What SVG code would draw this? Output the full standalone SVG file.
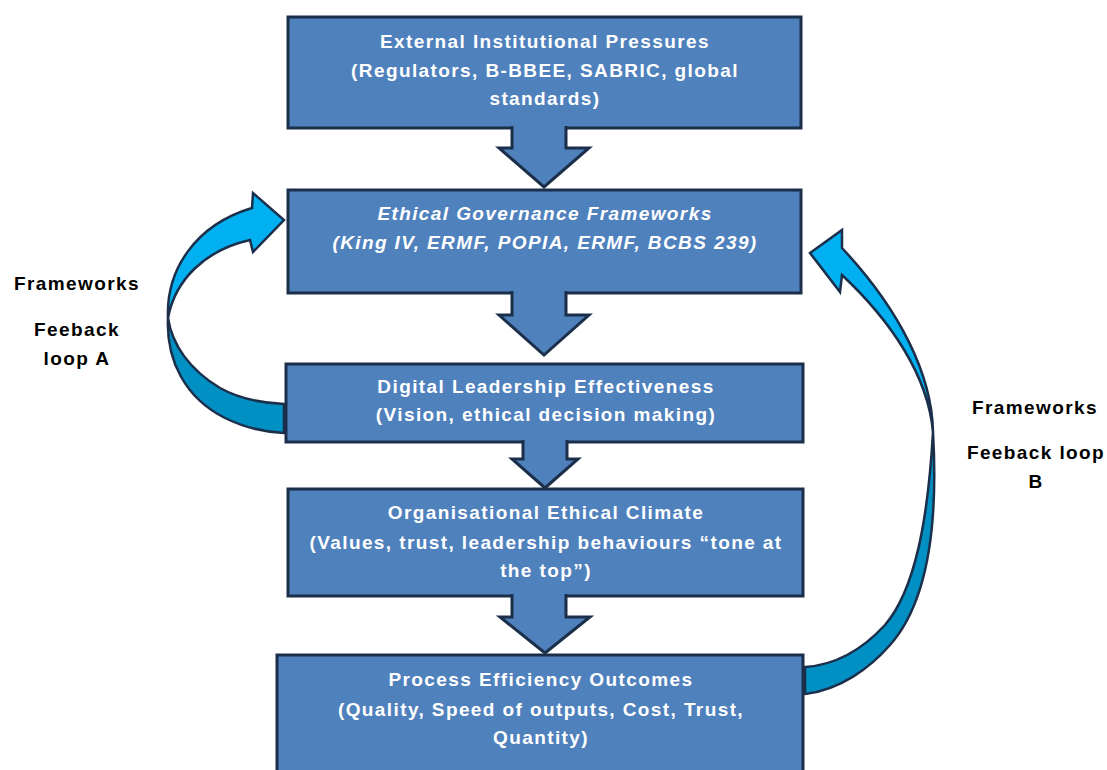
<svg xmlns="http://www.w3.org/2000/svg" width="1107" height="770" viewBox="0 0 1107 770">
  <style>
    .box { fill: #4F81BD; stroke: #1B2F4B; stroke-width: 3; }
    .down { fill: #4F81BD; stroke: #1B2F4B; stroke-width: 3; stroke-linejoin: miter; }
    .t { font-family: "Liberation Sans", Arial, sans-serif; font-size: 19px; font-weight: bold; letter-spacing: 1.4px; fill: #FFFFFF; text-anchor: middle; }
    .it { font-style: italic; }
    .lbl { font-family: "Liberation Sans", Arial, sans-serif; font-size: 19px; font-weight: bold; letter-spacing: 1.4px; fill: #000000; text-anchor: middle; }
    .front { fill: #00B0F0; stroke: #1B2F4B; stroke-width: 2.5; stroke-linejoin: miter; }
    .back { fill: #0090C4; stroke: #1B2F4B; stroke-width: 2.5; stroke-linejoin: round; }
  </style>
  <rect width="1107" height="770" fill="#FFFFFF"/>

  <g id="node-external">
    <rect class="box" x="288" y="17" width="513" height="111"/>
    <text class="t" x="545" y="48">External Institutional Pressures</text>
    <text class="t" x="545" y="77">(Regulators, B-BBEE, SABRIC, global</text>
    <text class="t" x="545" y="105">standards)</text>
  </g>

  <g id="node-governance">
    <rect class="box" x="288" y="190" width="513" height="103"/>
    <text class="t it" x="545" y="220">Ethical Governance Frameworks</text>
    <text class="t it" x="545" y="249">(King IV, ERMF, POPIA, ERMF, BCBS 239)</text>
  </g>

  <g id="node-leadership">
    <rect class="box" x="286" y="364" width="517" height="78"/>
    <text class="t" x="546" y="393">Digital Leadership Effectiveness</text>
    <text class="t" x="546" y="421">(Vision, ethical decision making)</text>
  </g>

  <g id="node-climate">
    <rect class="box" x="288" y="489" width="515" height="107"/>
    <text class="t" x="546" y="519">Organisational Ethical Climate</text>
    <text class="t" x="546" y="549">(Values, trust, leadership behaviours “tone at</text>
    <text class="t" x="546" y="577">the top”)</text>
  </g>

  <g id="node-outcomes">
    <rect class="box" x="277" y="655" width="526" height="125"/>
    <text class="t" x="541" y="686">Process Efficiency Outcomes</text>
    <text class="t" x="541" y="716">(Quality, Speed of outputs, Cost, Trust,</text>
    <text class="t" x="541" y="744">Quantity)</text>
  </g>

  <g id="connectors">
    <!-- block arrows between stacked boxes (open at the top so they merge into the box above) -->
    <path class="down" d="M512,126 V148 H499 L544,187 L589,148 H566 V126"/>
    <path class="down" d="M512,291 V315 H499 L544,355 L589,315 H566 V291"/>
    <path class="down" d="M523,440 V459 H512 L545,488 L578,459 H567 V440"/>
    <path class="down" d="M512,594 V617 H500 L545,653 L590,617 H566 V594"/>

    <!-- feedback loop A: leadership back up to governance -->
    <g id="loop-a">
      <path class="back" d="M168,318 C166,360 185,398 225,418 C245,428 265,432 284,433 L284,404 C260,403 238,398 220,388 C190,370 172,345 168,318 Z"/>
      <path class="front" d="M168,318 C166,270 195,225 252,208 L253,193 L284,220 L253,252 L250,240 C205,250 175,280 168,318 Z"/>
    </g>

    <!-- feedback loop B: outcomes back up to governance -->
    <g id="loop-b">
      <path class="back" d="M933,432 C938,520 930,600 890,645 C870,668 840,690 805,694 L805,667 C835,665 862,650 885,625 C915,590 928,520 933,432 Z"/>
      <path class="front" d="M933,432 C932,375 900,310 842,248 L842,230 L810,253 L840,292 L842,275 C890,320 928,375 933,432 Z"/>
    </g>
  </g>

  <g id="label-loop-a">
    <text class="lbl" x="77" y="290">Frameworks</text>
    <text class="lbl" x="77" y="336">Feeback</text>
    <text class="lbl" x="77" y="365">loop A</text>
  </g>
  <g id="label-loop-b">
    <text class="lbl" x="1035" y="414">Frameworks</text>
    <text class="lbl" x="1036" y="459">Feeback loop</text>
    <text class="lbl" x="1036" y="488">B</text>
  </g>
</svg>
